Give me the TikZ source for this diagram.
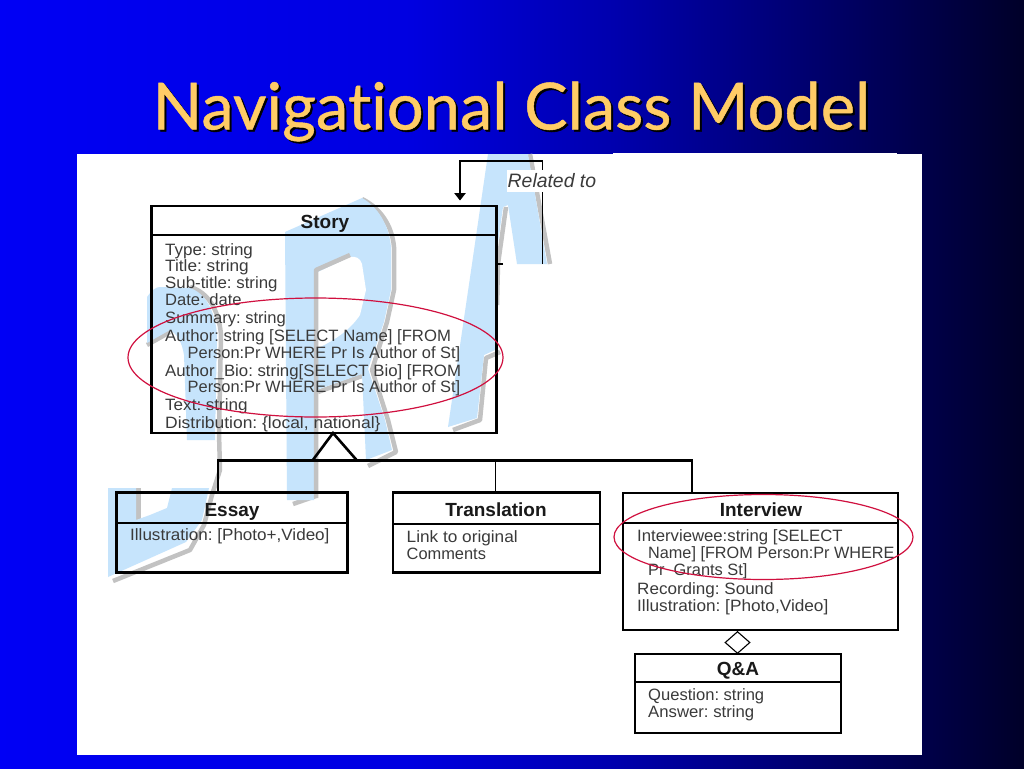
\documentclass[tikz,border=0pt]{standalone}
\usepackage{fontspec}
\setmainfont{Liberation Sans}
\newfontfamily\titlefont[Ligatures=NoCommon,FakeBold=0.7]{Lato}
\usetikzlibrary{arrows.meta,shapes.geometric}
\pgfdeclarehorizontalshading{slidebg}{100bp}{rgb(0bp)=(0,0,0.96);rgb(25bp)=(0,0,0.96);rgb(45bp)=(0,0,0.88);rgb(55bp)=(0,0,0.68);rgb(65bp)=(0,0,0.42);rgb(75bp)=(0,0,0.16);rgb(100bp)=(0,0,0.16)}
\definecolor{wmblue}{HTML}{C6E4FC}
\definecolor{wmgrey}{HTML}{C2C2C2}
\definecolor{attr}{HTML}{3A3A3A}
\definecolor{ring}{HTML}{D0103F}
\definecolor{titleyellow}{HTML}{FFCC66}
\tikzset{
  umlbox/.style={draw=black,line width=2.6pt,anchor=north west,inner sep=0pt,outer sep=0pt},
  divider/.style={draw=black,line width=2.6pt},
  conn/.style={draw=black,line width=2.6pt},
  thinconn/.style={draw=black,line width=1.2pt},
  attrtext/.style={anchor=base west,inner sep=0pt,text=attr,font=\fontsize{16.4}{18}\selectfont\frenchspacing},
  headtext/.style={anchor=base,inner sep=0pt,text=black!90,font=\fontsize{19}{20}\selectfont\bfseries},
  redring/.style={draw=ring,line width=1.2pt},
  wmb/.style={fill=wmblue,draw=none},
  wmg/.style={draw=wmgrey,line width=4.5pt,line join=round},
}
\begin{document}
\begin{tikzpicture}[x=1pt,y=-1pt]
\useasboundingbox (0,0) rectangle (1024,768);
\fill[shading=slidebg] (0,0) rectangle (1024,768);
% title
\node[anchor=base,inner sep=0pt,text=black,font=\titlefont\fontsize{65}{70}\selectfont] (titleshadow) at (513.5,131.5) {Navigational Class Model};
\node[anchor=base,inner sep=0pt,text=titleyellow,font=\titlefont\fontsize{65}{70}\selectfont] (title) at (511.5,129.5) {Navigational Class Model};
% panel
\fill[white] (77,154) rectangle (922,755);
\fill[white] (613,152.5) rectangle (897,155);
% watermark J
\draw[wmg] (147,345) -- (170,332);
\draw[wmg] (190,287) .. controls (208,292) and (219,310) .. (221,335) -- (219,433) -- (220,470) -- (212,495) -- (204,525) -- (190,550) -- (113,581);
\draw[wmg] (138.5,488) -- (138.5,520);
\fill[wmb] (147,297) .. controls (152,290) and (156,287) .. (160,287) -- (190,288) .. controls (205,293) and (215,310) .. (217,335) -- (215,440) -- (187,440) -- (184,355) .. controls (182,342) and (177,334) .. (170,330) -- (147,343) -- cycle;
\fill[wmb] (108,488) -- (136,488) -- (136,520) -- (150,515) -- (167,508) -- (172,488) -- (209,488) -- (202,520) -- (186,542) -- (108,577) -- cycle;
% watermark R
\draw[wmg] (362,199) .. controls (380,208) and (392,225) .. (394,247) -- (394,290) -- (387,322) -- (372,370) -- (388,420) -- (396,452) -- (368,466);
\draw[wmg] (293,504) -- (316,496);
\draw[wmg] (318,392) -- (362,376);
\fill[wmb] (285,232) -- (362,198) .. controls (378,207) and (389,225) .. (391,247) -- (391,290) -- (384,322) -- (368,369) -- (385,420) -- (392,450) -- (366,460) -- (362,374) -- (316,390) -- (314,500) -- (287,500) -- cycle;
\fill[white] (318,272) -- (350,257) .. controls (356,256) and (360,258) .. (362,264) -- (366,290) -- (360,315) .. controls (350,330) and (335,340) .. (318,348) -- cycle;
\draw[wmg] (350,255) -- (316,270) -- (316,498);
% watermark A
\draw[wmg] (530,154) -- (550,264);
\draw[wmg] (506,207) -- (498,264) -- (497,305);
\draw[wmg] (500,352) -- (486,358) -- (480,420) -- (453,430);
\fill[wmb] (488,154) -- (528,154) -- (547,264) -- (517,264) -- (508,205) -- (503,207) -- (495,264) -- (495,350) -- (484,355) -- (477,418) -- (448,427) -- (472,264) -- cycle;
% masks
\fill[white] (501,264.5) rectangle (922,755);
% boxes
\node[umlbox,minimum width=345pt,minimum height=227pt] (story) at (151.5,206) {};
\node[umlbox,minimum width=231pt,minimum height=80pt] (essay) at (116.5,492.5) {};
\node[umlbox,minimum width=207pt,minimum height=80pt] (translation) at (393,492.5) {};
\node[umlbox,minimum width=275pt,minimum height=137pt] (interview) at (623,493) {};
\node[umlbox,minimum width=206pt,minimum height=79pt] (qa) at (635,654) {};
\draw[divider] (story.west |- 0,235) -- (story.east |- 0,235);
\draw[divider] (essay.west |- 0,523) -- (essay.east |- 0,523);
\draw[divider] (translation.west |- 0,524) -- (translation.east |- 0,524);
\draw[divider] (interview.west |- 0,523) -- (interview.east |- 0,523);
\draw[divider] (qa.west |- 0,682) -- (qa.east |- 0,682);
% headings
\node[headtext] (hstory) at (325,228) {Story};
\node[headtext] (hessay) at (232,516.5) {Essay};
\node[headtext] (htrans) at (496,516.5) {Translation};
\node[headtext] (hinter) at (761,516) {Interview};
\node[headtext] (hqa) at (738,675.5) {Q\&A};
% attributes
\foreach \xx/\yy/\sx/\txt [count=\i] in {
  165/255/1.035/{Type: string},165/271/1.05/{Title: string},165/288/1.027/{Sub-title: string},165/305.5/1.01/{Date: date},
  165/323.5/1.01/{Summary: string},165/341/1.018/{Author: string [SELECT Name] [FROM},187.5/358.5/1.0/{Person:Pr WHERE Pr Is Author of St]},
  165/376/1.024/{Author\_Bio: string[SELECT Bio] [FROM},187.5/392.5/1.0/{Person:Pr WHERE Pr Is Author of St]},
  165/410.5/1.04/{Text: string},165/428/1.064/{Distribution: \{local, national\}},
  130/540.5/1.04/{Illustration: [Photo+,Video]},
  406.5/542/1.05/{Link to original},406.5/559/1.0/{Comments},
  637/541/1.02/{Interviewee:string [SELECT},648/558/0.99/{Name] [FROM Person:Pr WHERE},648/575/1.0/{Pr\ \ Grants St]},
  637/594/1.04/{Recording: Sound},637/611/1.05/{Illustration: [Photo,Video]},
  648/700/1.01/{Question: string},648/717/1.02/{Answer: string}}
  \node[attrtext] (attr\i) at (\xx,\yy) {\scalebox{\sx}[1]{\txt}};
% connectors
\coordinate (apex) at (333,433);
\coordinate (tl) at (312.5,460.5);
\coordinate (tr) at (357,460.5);
\coordinate (bus) at (495.5,460.5);
\coordinate (essaytop) at (218,492);
\coordinate (transtop) at (495.5,492);
\coordinate (intertop) at (692,492);
\draw[conn,line join=miter] (tl) -- (apex) -- (tr);
\draw[conn] (essaytop) -- (essaytop |- bus) -- (intertop |- bus) -- (intertop);
\draw[thinconn] (bus) -- (transtop);
\node[diamond,draw=black,line width=1.1pt,fill=white,inner sep=0pt,minimum width=25pt,minimum height=22pt] (agg) at (737.5,642.5) {};
\draw[thinconn] (interview.south -| agg) -- (agg.north);
\draw[thinconn] (agg.south) -- (qa.north -| agg);
% self relation
\coordinate (relstart) at (542.5,264);
\coordinate (relcorner) at (542.5,161);
\coordinate (reltip) at (460,200.5);
\coordinate (stub) at (503,264);
\draw[thinconn] (stub) -- (stub -| story.east);
\draw[thinconn,-{Triangle[length=7.5pt,width=11.5pt]}] (relstart) -- (relcorner) -- (relcorner -| reltip) -- (reltip);
\fill[white] (507,170) rectangle (598,192);
\node[anchor=base west,inner sep=0pt,text=attr,font=\fontsize{19.4}{20}\selectfont\itshape] (rel) at (507.5,187) {Related to};
% highlights
\draw[redring] (315.5,357.5) ellipse [x radius=187.5,y radius=59.5];
\draw[redring] (763.5,537) ellipse [x radius=149.5,y radius=42.5];
\end{tikzpicture}
\end{document}
